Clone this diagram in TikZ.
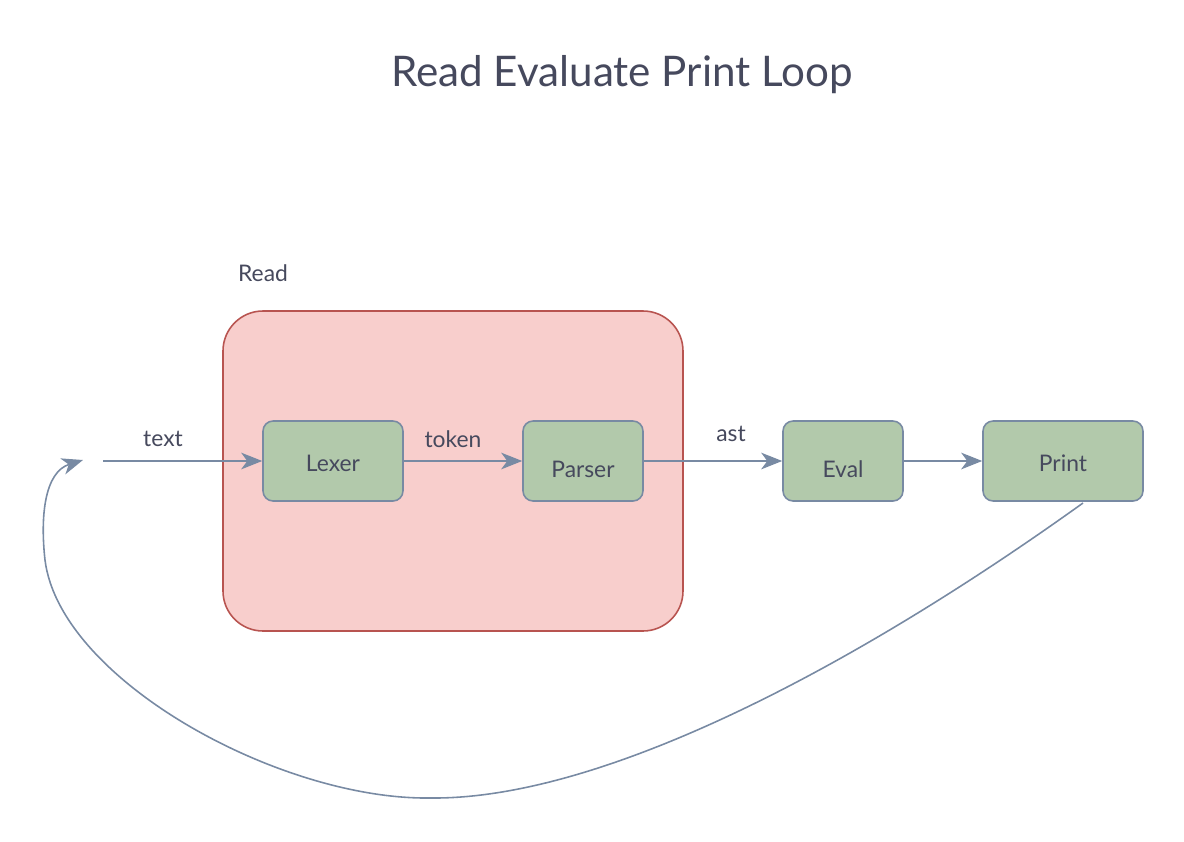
\documentclass[tikz,border=0pt]{standalone}
\usepackage{fontspec}
\setmainfont{Lato}
\usetikzlibrary{arrows.meta}

\definecolor{ink}{HTML}{46495D}
\definecolor{wire}{HTML}{788AA3}
\definecolor{stagefill}{HTML}{B2C9AB}
\definecolor{readfill}{HTML}{F8CECC}
\definecolor{readline}{HTML}{B85450}

\begin{document}
\begin{tikzpicture}[
    x=0.02cm, y=-0.02cm,
    every node/.style={text=ink, font=\fontsize{13}{16}\selectfont},
    stage/.style={draw=wire, fill=stagefill, line width=0.9pt, rounded corners=0.2cm,
        minimum height=1.6cm, inner sep=0pt},
    flow/.style={draw=wire, line width=0.9pt, -{Stealth[length=12pt,width=9.5pt,inset=3.5pt]}}
]
\useasboundingbox (0,0) rectangle (1184,842);

\node (title) at (622,75) {\fontsize{24}{29}\selectfont Read Evaluate Print Loop};

% read group
\draw[fill=readfill, draw=readline, line width=0.9pt, rounded corners=0.8cm]
    (223,311) rectangle (683,631);
\node (readlbl) at (263,273) {Read};

\node[stage, minimum width=2.8cm] (lexer) at (333,461) {};
\node[stage, minimum width=2.4cm] (parser) at (583,461) {};
\node[stage, minimum width=2.4cm] (eval) at (843,461) {};
\node[stage, minimum width=3.2cm] (print) at (1063,461) {};

\node at (333,463) {Lexer};
\node at (583,469) {Parser};
\node at (843,469) {Eval};
\node at (1063,463) {Print};

\coordinate (src) at (103,461);
\coordinate (back) at (83,460);
\coordinate (tail) at (1083,503);

\draw[flow] (src) -- (lexer);
\draw[flow] (lexer) -- (parser);
\draw[flow] (parser) -- (eval);
\draw[flow] (eval) -- (print);

\node (textlbl) at (163,439) {text};
\node (tokenlbl) at (453,439) {token};
\node (astlbl) at (731,434) {ast};

% loop back
\draw[flow] (tail) .. controls (850,670) and (600,800) .. (430,798)
    .. controls (280,800) and (60,680) .. (45,560)
    .. controls (40,515) and (45,472) .. (back);

\end{tikzpicture}
\end{document}
